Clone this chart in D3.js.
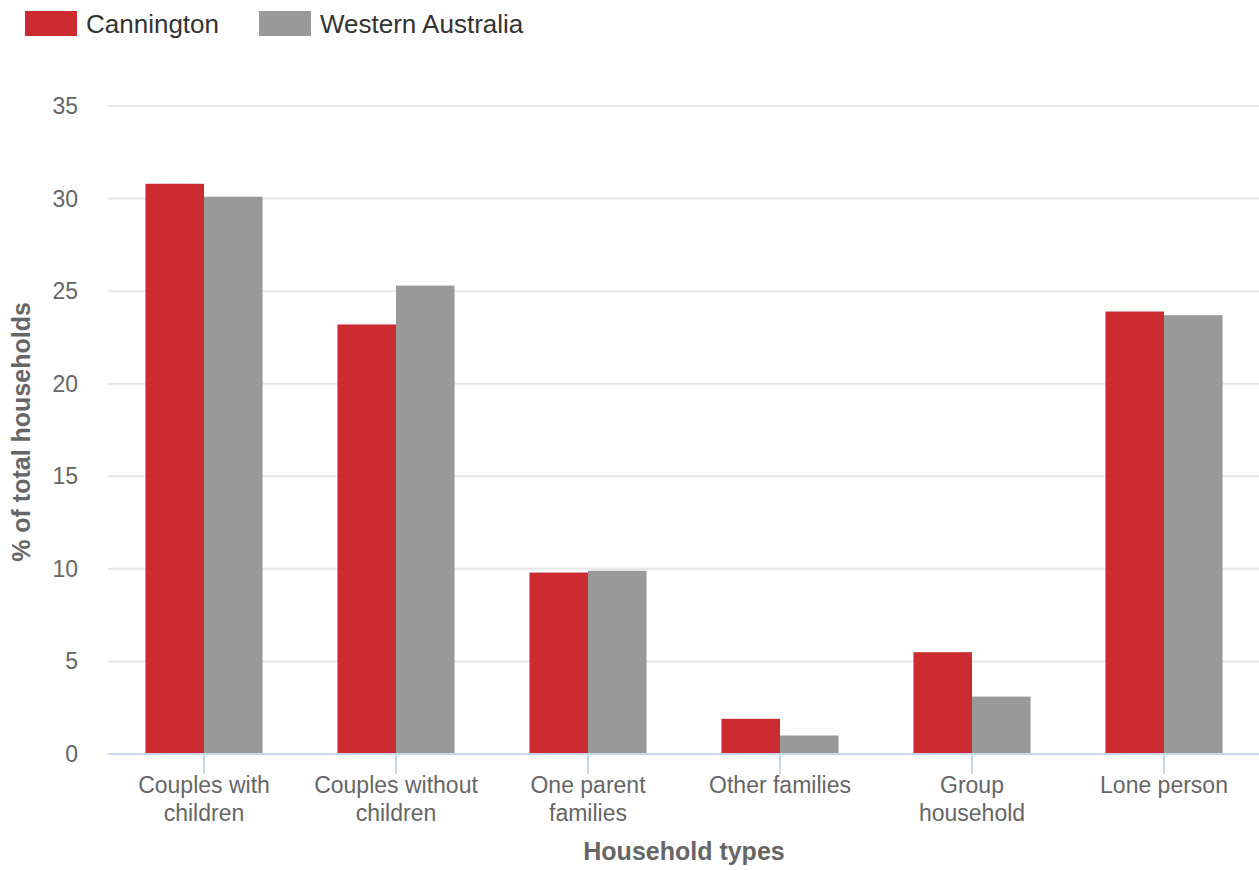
<!DOCTYPE html>
<html>
<head>
<meta charset="utf-8">
<script src="https://cdn.jsdelivr.net/npm/d3@7"></script>
<style>
  body { margin: 0; background: #fff; }
  svg text { font-family: "Liberation Sans", Arial, sans-serif; }
</style>
</head>
<body>
<svg width="1259" height="870"></svg>
<script>
'use strict';

// categories and series
var categories = [
  ["Couples with", "children"],
  ["Couples without", "children"],
  ["One parent", "families"],
  ["Other families"],
  ["Group", "household"],
  ["Lone person"]
];
var seriesNames = ["Cannington", "Western Australia"];
var seriesColors = ["#cc2b31", "#999999"];
var cannington = [30.8, 23.2, 9.8, 1.9, 5.5, 23.9];
var westernAustralia = [30.1, 25.3, 9.9, 1.0, 3.1, 23.7];
var yTicks = [0, 5, 10, 15, 20, 25, 30, 35];

var svg = d3.select("svg");

// plot area
var plotLeft = 108, plotRight = 1260, plotTop = 106, plotBottom = 754;

var catKeys = categories.map(function(d) { return d.join(" "); });

var x0 = d3.scaleBand().domain(catKeys).range([plotLeft, plotRight]).padding(0);
var x1 = d3.scaleBand().domain(seriesNames)
  .range([0, x0.bandwidth()]).paddingInner(0).paddingOuter(0.64);
var y = d3.scaleLinear().domain([0, 35]).range([plotBottom, plotTop]);

// gridlines
svg.append("g")
  .selectAll("line")
  .data(yTicks.filter(function(d) { return d > 0; }))
  .enter()
  .append("line")
  .attr("x1", plotLeft)
  .attr("x2", 1259)
  .attr("y1", function(d) { return y(d); })
  .attr("y2", function(d) { return y(d); })
  .attr("stroke", "#e6e6e6")
  .attr("stroke-width", 2);

// y labels
svg.append("g")
  .selectAll("text")
  .data(yTicks)
  .enter()
  .append("text")
  .attr("x", 78)
  .attr("y", function(d) { return y(d) + 8; })
  .attr("text-anchor", "end")
  .attr("font-size", "23px")
  .attr("fill", "#666666")
  .text(function(d) { return d; });

// bars
var rows = catKeys.map(function(k, i) {
  return { key: k, values: [cannington[i], westernAustralia[i]] };
});

var groups = svg.append("g")
  .selectAll("g")
  .data(rows)
  .enter()
  .append("g")
  .attr("transform", function(d) { return "translate(" + x0(d.key) + ",0)"; });

groups.selectAll("rect")
  .data(function(d) {
    return d.values.map(function(v, j) { return { name: seriesNames[j], value: v, color: seriesColors[j] }; });
  })
  .enter()
  .append("rect")
  .attr("x", function(d) { return x1(d.name); })
  .attr("width", x1.bandwidth())
  .attr("y", function(d) { return y(d.value); })
  .attr("height", function(d) { return plotBottom - y(d.value); })
  .attr("fill", function(d) { return d.color; });

// x axis line and ticks
svg.append("line")
  .attr("x1", plotLeft).attr("x2", 1259)
  .attr("y1", plotBottom).attr("y2", plotBottom)
  .attr("stroke", "#ccd6eb").attr("stroke-width", 2);

svg.append("g")
  .selectAll("line")
  .data(catKeys)
  .enter()
  .append("line")
  .attr("x1", function(d) { return x0(d) + x0.bandwidth() / 2; })
  .attr("x2", function(d) { return x0(d) + x0.bandwidth() / 2; })
  .attr("y1", plotBottom)
  .attr("y2", plotBottom + 20)
  .attr("stroke", "#ccd6eb")
  .attr("stroke-width", 2);

// x labels
var xl = svg.append("g")
  .selectAll("text")
  .data(categories)
  .enter()
  .append("text")
  .attr("text-anchor", "middle")
  .attr("font-size", "23px")
  .attr("fill", "#666666");

xl.selectAll("tspan")
  .data(function(d) {
    var k = d.join(" ");
    return d.map(function(line, i) { return { line: line, i: i, k: k }; });
  })
  .enter()
  .append("tspan")
  .attr("x", function(d) { return x0(d.k) + x0.bandwidth() / 2; })
  .attr("y", function(d) { return 793 + d.i * 27.5; })
  .text(function(d) { return d.line; });

// axis titles
svg.append("text")
  .attr("x", 684)
  .attr("y", 860)
  .attr("text-anchor", "middle")
  .attr("font-size", "25px")
  .attr("font-weight", "bold")
  .attr("fill", "#666666")
  .text("Household types");

svg.append("text")
  .attr("transform", "translate(30,432) rotate(-90)")
  .attr("text-anchor", "middle")
  .attr("font-size", "25px")
  .attr("font-weight", "bold")
  .attr("fill", "#666666")
  .text("% of total households");

// legend
var legendX = [25, 259];
var legend = svg.append("g")
  .selectAll("g")
  .data(seriesNames)
  .enter()
  .append("g")
  .attr("transform", function(d, i) { return "translate(" + legendX[i] + ",11)"; });

legend.append("rect")
  .attr("width", 52)
  .attr("height", 25)
  .attr("fill", function(d, i) { return seriesColors[i]; });

legend.append("text")
  .attr("x", 61)
  .attr("y", 22)
  .attr("font-size", "26px")
  .attr("fill", "#333333")
  .text(function(d) { return d; });
</script>
</body>
</html>
